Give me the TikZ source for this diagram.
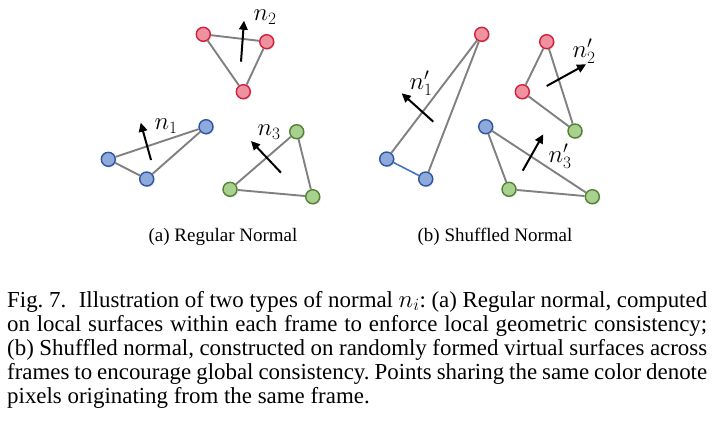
\documentclass[tikz,border=0pt]{standalone}
\usepackage{fontspec}
\setmainfont{Liberation Serif}
\usetikzlibrary{arrows.meta,shadows}
\definecolor{rfill}{HTML}{F0919F}
\definecolor{rdraw}{HTML}{D0203C}
\definecolor{bfill}{HTML}{8EAADC}
\definecolor{bdraw}{HTML}{2F55A2}
\definecolor{gfill}{HTML}{A9D18E}
\definecolor{gdraw}{HTML}{538135}
\definecolor{edgegray}{HTML}{808080}
\definecolor{bedge}{HTML}{4472C4}
\tikzset{
  pt/.style={circle,inner sep=0pt,minimum size=14pt,line width=1.4pt,
    drop shadow={opacity=0.22,shadow xshift=1.2pt,shadow yshift=-1.2pt}},
  rpt/.style={pt,fill=rfill,draw=rdraw},
  bpt/.style={pt,fill=bfill,draw=bdraw},
  gpt/.style={pt,fill=gfill,draw=gdraw},
  edge/.style={draw=edgegray,line width=1.9pt},
  bedgestyle/.style={draw=bedge,line width=1.6pt},
  normal/.style={draw=black,line width=2pt,-{Triangle[length=9pt,width=8.5pt]}},
  lbl/.style={inner sep=0pt,font=\fontsize{24}{24}\selectfont},
  sub/.style={inner sep=0pt,font=\fontsize{19}{20}\selectfont},
  capline/.style={inner sep=0pt,anchor=base west,font=\fontsize{22.9}{24}\selectfont}
}
\begin{document}
\frenchspacing
\begin{tikzpicture}[x=1pt,y=-1pt]
\useasboundingbox (0,0) rectangle (718,421);
% ---------- (a) regular normal ----------
\node[rpt] (ra1) at (203.3,34.3) {};
\node[rpt] (ra2) at (266.7,41.7) {};
\node[rpt] (ra3) at (243.3,91.7) {};
\node[bpt] (ba1) at (108.3,159.3) {};
\node[bpt] (ba2) at (146.7,179) {};
\node[bpt] (ba3) at (206,126.7) {};
\node[gpt] (ga1) at (296.7,131.7) {};
\node[gpt] (ga2) at (230,189.3) {};
\node[gpt] (ga3) at (312.7,196.7) {};
\path[edge] (ra1) -- (ra2) (ra2) -- (ra3) (ra3) -- (ra1);
\path[edge] (ba1) -- (ba2) (ba2) -- (ba3) (ba3) -- (ba1);
\path[edge] (ga1) -- (ga2) (ga2) -- (ga3) (ga3) -- (ga1);
\coordinate (n2s) at (241,61.7); \coordinate (n2e) at (244,20.7);
\coordinate (n1s) at (151,160); \coordinate (n1e) at (140.7,122.7);
\coordinate (n3s) at (281,172.7); \coordinate (n3e) at (251,141);
\draw[normal] (n2s) -- (n2e);
\draw[normal] (n1s) -- (n1e);
\draw[normal] (n3s) -- (n3e);
\node[lbl] (l2) at (265,17) {$n_2$};
\node[lbl] (l1) at (166,126) {$n_1$};
\node[lbl] (l3) at (269,132) {$n_3$};
% ---------- (b) shuffled normal ----------
\node[rpt] (rb1) at (481.7,34.3) {};
\node[rpt] (rb2) at (546.7,41.7) {};
\node[rpt] (rb3) at (522.3,91.7) {};
\node[bpt] (bb1) at (386.7,159) {};
\node[bpt] (bb2) at (425.7,179) {};
\node[bpt] (bb3) at (485.7,126.7) {};
\node[gpt] (gb1) at (575,131) {};
\node[gpt] (gb2) at (509,189.3) {};
\node[gpt] (gb3) at (592.3,196.7) {};
\path[edge] (rb1) -- (bb1) (rb1) -- (bb2);
\path[bedgestyle] (bb1) -- (bb2);
\path[edge] (rb2) -- (rb3) (rb2) -- (gb1) (rb3) -- (gb1);
\path[edge] (bb3) -- (gb2) (bb3) -- (gb3) (gb2) -- (gb3);
\coordinate (m1s) at (433.3,121.7); \coordinate (m1e) at (401.7,93.3);
\coordinate (m2s) at (546.7,86); \coordinate (m2e) at (586,64.3);
\coordinate (m3s) at (522.7,170.7); \coordinate (m3e) at (543.3,134.3);
\draw[normal] (m1s) -- (m1e);
\draw[normal] (m2s) -- (m2e);
\draw[normal] (m3s) -- (m3e);
\node[lbl] (k1) at (421,83) {$n'_1$};
\node[lbl] (k2) at (584,51) {$n'_2$};
\node[lbl] (k3) at (560,156) {$n'_3$};
% ---------- sub-captions ----------
\node[sub] (sa) at (223,237) {(a) Regular Normal};
\node[sub] (sb) at (495,237) {(b) Shuffled Normal};
% ---------- caption ----------
\node[capline] (c1) at (7,307) {\hbox to 700pt{Fig.\ 7.\hspace{0.3em} Illustration of two types of normal $n_i$: (a) Regular normal, computed}};
\node[capline] (c2) at (7,331) {\hbox to 700pt{on local surfaces within each frame to enforce local geometric consistency;}};
\node[capline] (c3) at (7,355) {\hbox to 700pt{(b) Shuffled normal, constructed on randomly formed virtual surfaces across}};
\node[capline] (c4) at (7,379) {\hbox to 700pt{frames to encourage global consistency. Points sharing the same color denote}};
\node[capline] (c5) at (7,403) {pixels originating from the same frame.};
\end{tikzpicture}
\end{document}
